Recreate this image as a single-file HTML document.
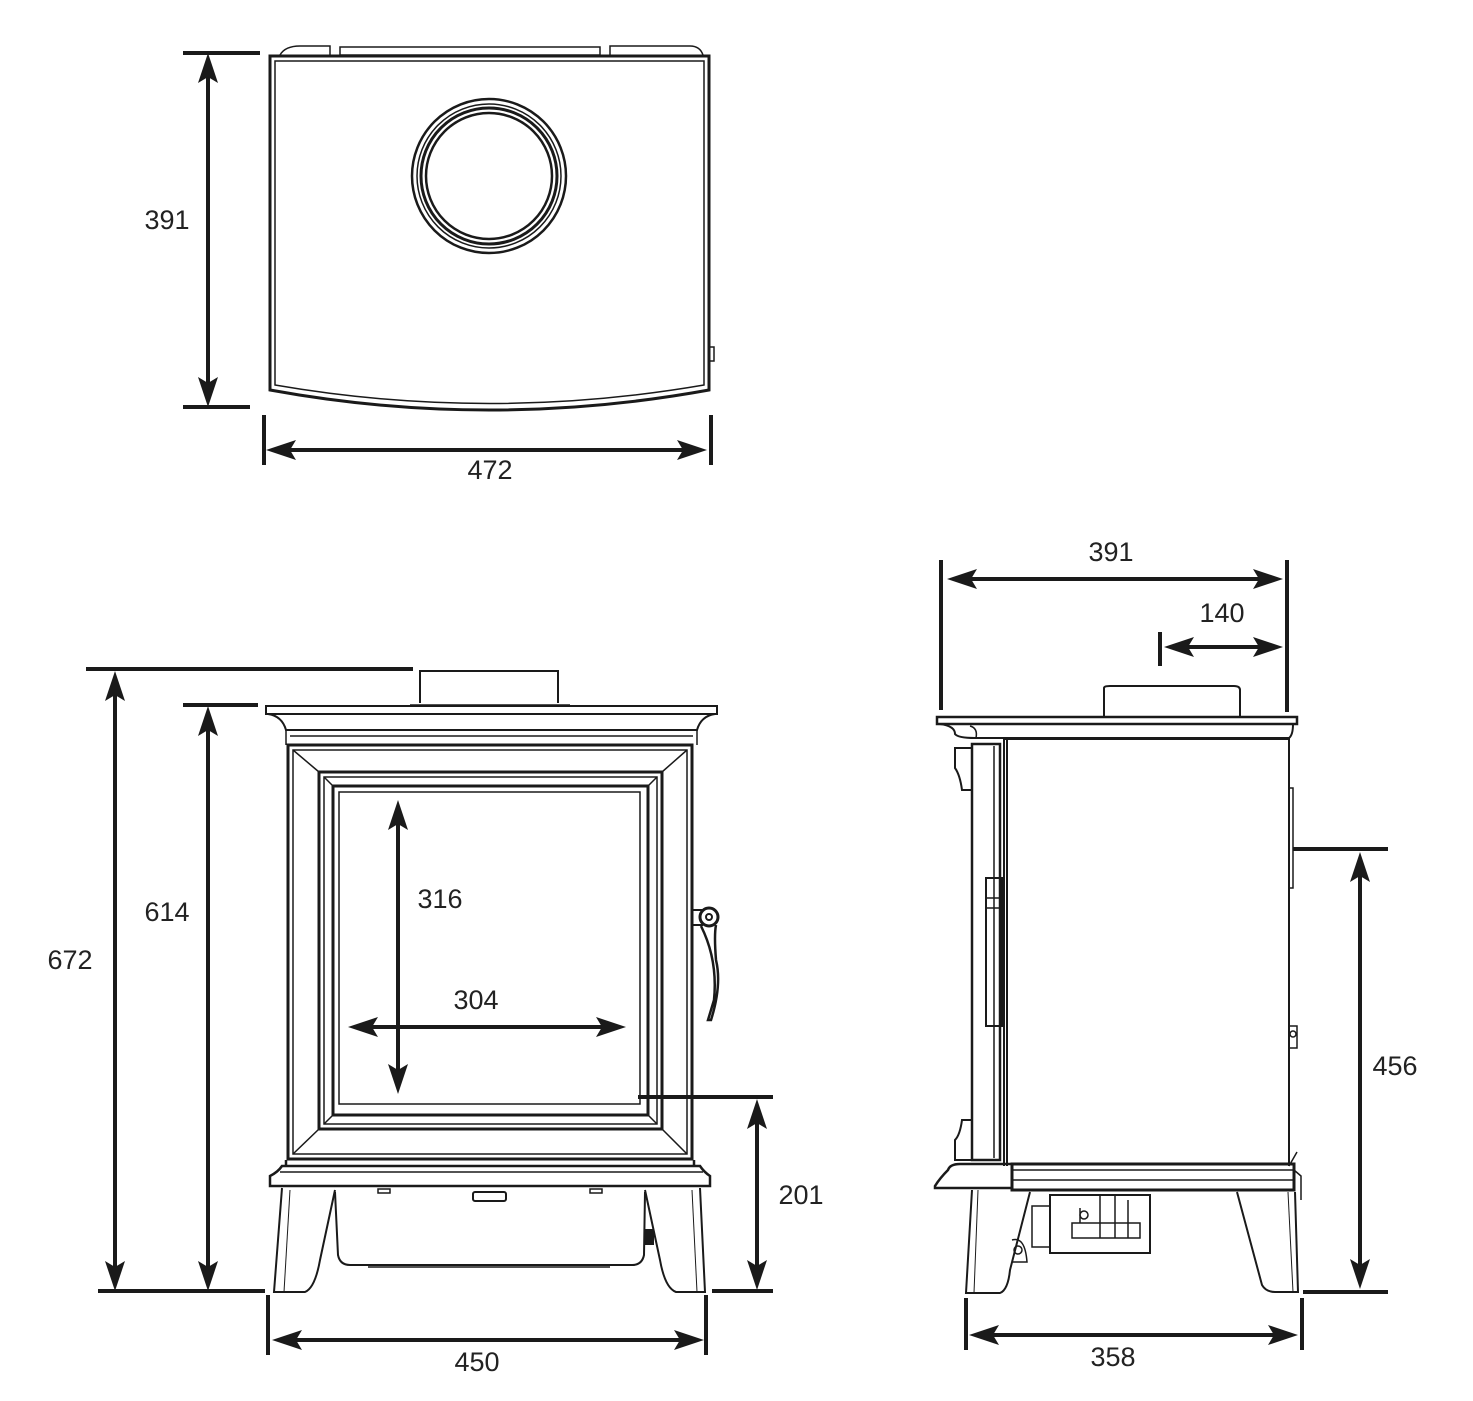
<!DOCTYPE html>
<html><head><meta charset="utf-8"><style>
html,body{margin:0;padding:0;background:#fff;}
svg{display:block;}
text{font-family:"Liberation Sans",Arial,sans-serif;font-size:27px;fill:#222;}
</style></head><body>
<svg width="1473" height="1401" viewBox="0 0 1473 1401" xmlns="http://www.w3.org/2000/svg">
<g fill="none" stroke="#1a1a1a" stroke-width="2">
<!-- TOP VIEW -->
<path d="M340,47 H600 V55 H340 Z" stroke-width="1.5"/>
<path d="M280,55 Q285,46 300,46 H330 V55 M610,55 V46 H690 Q700,46 703,55" stroke-width="1.5"/>
<path d="M270,56 H709 V390 Q489,430 270,390 Z" stroke-width="3"/>
<path d="M275,61 H704 V385 Q489,422 275,385 Z" stroke-width="1.5"/>
<rect x="709" y="347" width="5" height="14" stroke-width="1.5"/>
<circle cx="489" cy="176" r="77" stroke-width="2.5"/>
<circle cx="489" cy="176" r="72" stroke-width="1.5"/>
<circle cx="489" cy="176" r="68" stroke-width="3"/>
<circle cx="489" cy="176" r="63" stroke-width="2.5"/>

<!-- FRONT VIEW -->
<path d="M420,703 V671 H558 V703" stroke-width="2"/>
<path d="M410,705 H570" stroke-width="1.5"/>
<path d="M266,706 H717 V714 H266 Z" stroke-width="2"/>
<path d="M268,714 Q282,716 286,730 H697 Q701,716 715,714" stroke-width="2"/>
<path d="M286,730 V745 M697,730 V745 M290,736 H693" stroke-width="1.5"/>
<rect x="288" y="745" width="404" height="414" stroke-width="3"/>
<rect x="293" y="750" width="394" height="404" stroke-width="1.5"/>
<rect x="319" y="772" width="343" height="357" stroke-width="3"/>
<rect x="324" y="777" width="333" height="347" stroke-width="1.5"/>
<rect x="333" y="786" width="315" height="329" stroke-width="3"/>
<rect x="339" y="792" width="301" height="312" stroke-width="1.5"/>
<path d="M293,750 L319,772 M687,750 L662,772 M293,1154 L319,1129 M687,1154 L662,1129" stroke-width="1.5"/>
<path d="M324,777 L333,786 M657,777 L648,786 M324,1124 L333,1115 M657,1124 L648,1115" stroke-width="1.5"/>
<!-- handle -->
<path d="M692,910 H703 M692,925 H703" stroke-width="2"/>
<circle cx="709" cy="917" r="9" stroke-width="3"/>
<circle cx="709" cy="917" r="3" stroke-width="2"/>
<path d="M701,926 Q718,960 714,1000 L708,1020 L711,1020 Q722,985 716,960 Q714,935 716,925" stroke-width="2.5"/>
<!-- base -->
<path d="M286,1160 V1166 M694,1160 V1166 M282,1166 H700 Q704,1172 710,1176 V1186 H270 V1176 Q278,1172 282,1166 Z" stroke-width="2.5"/>
<path d="M280,1172 H703" stroke-width="1.5"/>
<path d="M282,1188 L274,1292 H305 Q315,1288 320,1260 L335,1190" stroke-width="2"/>
<path d="M290,1190 L284,1292" stroke-width="1"/>
<path d="M700,1188 L705,1292 H676 Q665,1288 660,1260 L645,1190" stroke-width="2"/>
<path d="M692,1190 L697,1292" stroke-width="1"/>
<path d="M335,1192 L338,1255 Q340,1265 350,1265 H632 Q642,1265 644,1255 L645,1192" stroke-width="2"/>
<path d="M368,1267 H610" stroke-width="1.5"/>
<rect x="473" y="1192" width="33" height="9" rx="2" stroke-width="2"/>
<rect x="378" y="1189" width="12" height="4" stroke-width="1.5"/>
<rect x="590" y="1189" width="12" height="4" stroke-width="1.5"/>
<rect x="645" y="1230" width="8" height="14" fill="#1a1a1a"/>

<!-- SIDE VIEW -->
<path d="M1104,717 V688 Q1104,686 1110,686 H1234 Q1240,686 1240,690 V717" stroke-width="2"/>
<path d="M937,717 H1297 V724 H937 Z" stroke-width="2.5"/>
<path d="M940,724 Q955,726 955,734 Q958,738 975,738 H1289 Q1293,735 1293,724" stroke-width="2"/>
<path d="M970,726 Q978,728 976,738" stroke-width="1.5"/>
<path d="M1004,739 V1166 M1007,739 V1166 M1004,739 H1289 V1166" stroke-width="2"/>
<path d="M1289,788 H1293 V888 H1289" stroke-width="1.5"/>
<path d="M1289,1026 H1297 V1048 H1289" stroke-width="1.5"/>
<circle cx="1293" cy="1034" r="3" stroke-width="1.5"/>
<path d="M1000,744 H972 V1160 H1000 Z" stroke-width="2.5"/>
<path d="M994,746 V1158" stroke-width="1.5"/>
<rect x="986" y="878" width="16" height="148" stroke-width="2"/>
<path d="M986,898 H1002 M986,908 H1002" stroke-width="1.5"/>
<path d="M972,748 H955 V768 Q960,775 962,790 H972 M972,1120 H962 Q960,1135 955,1140 V1160 H972" stroke-width="2"/>
<path d="M935,1186 Q940,1178 948,1170 Q950,1164 960,1164 H1012 V1188 H935 Z" stroke-width="2.5"/>
<path d="M1012,1164 H1294 V1190 H1012 Z" stroke-width="3"/>
<path d="M1012,1170 H1294 M1012,1180 H1294" stroke-width="1.5"/>
<path d="M1289,1166 L1297,1152 M1294,1170 L1301,1176 V1200" stroke-width="1.5"/>
<path d="M972,1190 L966,1293 H1000 Q1008,1290 1010,1270 L1030,1192" stroke-width="2"/>
<path d="M978,1190 L974,1293" stroke-width="1"/>
<path d="M1237,1192 L1262,1285 Q1266,1292 1275,1292 H1298 L1295,1192" stroke-width="2"/>
<path d="M1288,1192 L1293,1292" stroke-width="1"/>
<path d="M1032,1206 H1050 V1247 H1032 Z" stroke-width="1.5"/>
<path d="M1050,1195 H1150 V1253 H1050 Z" stroke-width="2"/>
<path d="M1072,1223 H1140 V1238 H1072 Z M1080,1208 V1223 M1100,1195 V1238 M1115,1195 V1238 M1128,1200 V1238" stroke-width="1.5"/>
<circle cx="1084" cy="1215" r="4" stroke-width="1.5"/>
<path d="M1012,1240 Q1025,1236 1027,1262 H1012" stroke-width="1.5"/>
<circle cx="1018" cy="1250" r="4" stroke-width="1.5"/>
</g>

<!-- DIMENSION LINES -->
<g stroke="#1a1a1a" stroke-width="4" fill="none">
<path d="M183,53 H260 M183,407 H250 M208,76 V386"/>
<path d="M264,415 V465 M711,415 V465 M286,450 H687"/>
<path d="M86,669 H413 M183,705 H258 M98,1291 H265 M115,692 V1270 M208,727 V1270"/>
<path d="M398,820 V1074 M368,1027 H606"/>
<path d="M638,1097 H773 M712,1291 H773 M757,1119 V1269"/>
<path d="M268,1295 V1355 M706,1295 V1355 M292,1340 H684"/>
<path d="M941,560 V710 M1287,560 V712 M967,579 H1263"/>
<path d="M1160,632 V666 M1184,647 H1263"/>
<path d="M1293,849 H1388 M1303,1292 H1388 M1360,872 V1269"/>
<path d="M966,1298 V1350 M1302,1298 V1350 M989,1335 H1278"/>
</g>
<g fill="#1a1a1a">
<polygon points="208,53 198,83 208,77 218,83"/>
<polygon points="208,407 198,377 208,383 218,377"/>
<polygon points="266,450 296,440 290,450 296,460"/>
<polygon points="707,450 677,440 683,450 677,460"/>
<polygon points="115,671 105,701 115,695 125,701"/>
<polygon points="115,1291 105,1261 115,1267 125,1261"/>
<polygon points="208,706 198,736 208,730 218,736"/>
<polygon points="208,1291 198,1261 208,1267 218,1261"/>
<polygon points="398,800 388,830 398,824 408,830"/>
<polygon points="398,1094 388,1064 398,1070 408,1064"/>
<polygon points="348,1027 378,1017 372,1027 378,1037"/>
<polygon points="626,1027 596,1017 602,1027 596,1037"/>
<polygon points="757,1099 747,1129 757,1123 767,1129"/>
<polygon points="757,1290 747,1260 757,1266 767,1260"/>
<polygon points="272,1340 302,1330 296,1340 302,1350"/>
<polygon points="704,1340 674,1330 680,1340 674,1350"/>
<polygon points="947,579 977,569 971,579 977,589"/>
<polygon points="1283,579 1253,569 1259,579 1253,589"/>
<polygon points="1164,647 1194,637 1188,647 1194,657"/>
<polygon points="1283,647 1253,637 1259,647 1253,657"/>
<polygon points="1360,852 1350,882 1360,876 1370,882"/>
<polygon points="1360,1289 1350,1259 1360,1265 1370,1259"/>
<polygon points="969,1335 999,1325 993,1335 999,1345"/>
<polygon points="1298,1335 1268,1325 1274,1335 1268,1345"/>
</g>
<g text-anchor="middle">
<text x="167" y="229">391</text>
<text x="490" y="479">472</text>
<text x="70" y="969">672</text>
<text x="167" y="921">614</text>
<text x="440" y="908">316</text>
<text x="476" y="1009">304</text>
<text x="801" y="1204">201</text>
<text x="477" y="1371">450</text>
<text x="1111" y="561">391</text>
<text x="1222" y="622">140</text>
<text x="1395" y="1075">456</text>
<text x="1113" y="1366">358</text>
</g>
</svg>
</body></html>
